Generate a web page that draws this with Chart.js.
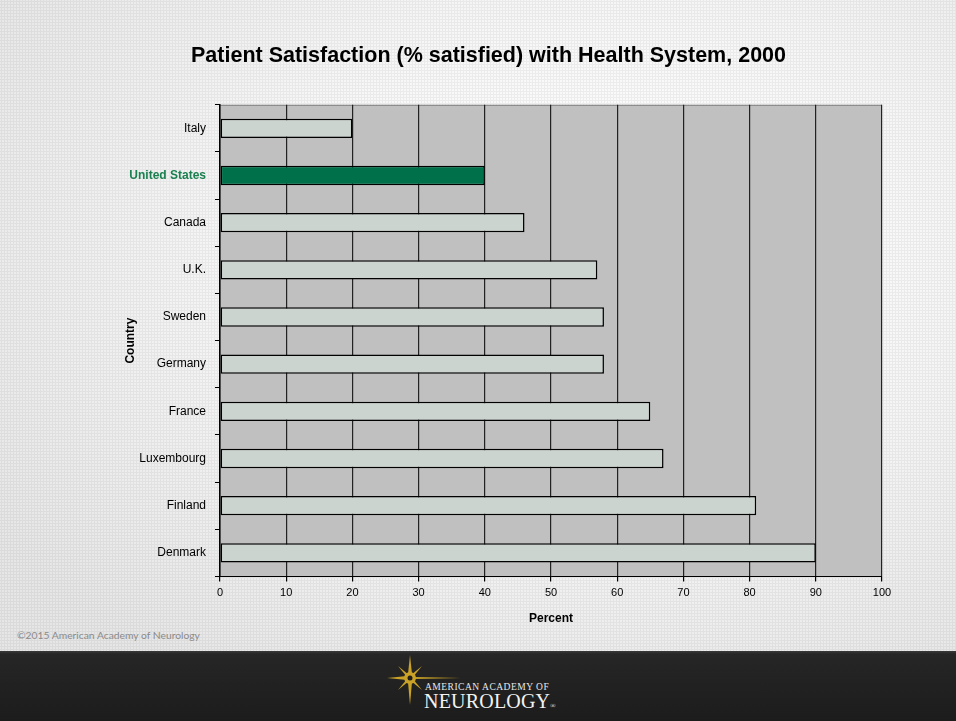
<!DOCTYPE html>
<html>
<head>
<meta charset="utf-8">
<script src="https://cdn.jsdelivr.net/npm/chart.js"></script>
<style>
  html, body { margin: 0; padding: 0; }
  body {
    width: 956px; height: 721px; position: relative; overflow: hidden;
    background-color: #e9e9e9;
    background-image:
      radial-gradient(circle, rgba(0,0,0,0.05) 1px, transparent 1.2px),
      radial-gradient(ellipse 75% 70% at 62% 35%, #ffffff 0%, #f7f7f7 45%, #e6e6e6 100%);
    background-size: 3px 3px, 100% 100%;
  }
  #wrap { position: absolute; left: 0; top: 0; width: 956px; height: 721px; }
  #copy {
    position: absolute; left: 17px; top: 629px;
    font: 10.3px Lato, sans-serif; color: #8a8a8a;
  }
  #footer {
    position: absolute; left: 0; top: 651px; width: 956px; height: 70px;
    background: linear-gradient(#3a3a3a 0px, #262626 3px, #1c1c1c 100%);
  }
  #logo1 {
    position: absolute; left: 425px; top: 682px;
    font: 9.5px "Liberation Serif", serif; color: #e8e8e8; letter-spacing: 0.5px;
  }
  #logo2 {
    position: absolute; left: 424px; top: 690px;
    font: 20px "Liberation Serif", serif; color: #f2f2f2; letter-spacing: 0.2px;
  }
  #logo2 small { font-size: 7px; letter-spacing: 0; }
  #star { position: absolute; left: 385px; top: 655px; }
</style>
</head>
<body>
<div id="footer"></div>
<svg id="star" width="80" height="50" viewBox="0 0 80 50">
  <g fill="#c9a227">
    <polygon points="25,0 27,19 25,22 23,19"/>
    <polygon points="25,50 27,27 25,24 23,27"/>
    <polygon points="2,23 22,21 25,23 22,25"/>
    <polygon points="76,23 28,22 25,23 28,24"/>
    <polygon points="13,11 24,20 22,22"/>
    <polygon points="37,11 26,20 28,22"/>
    <polygon points="13,35 24,26 22,24"/>
    <polygon points="37,35 26,26 28,24"/>
    <circle cx="25" cy="23" r="6"/>
  </g>
  <circle cx="25" cy="23" r="2.5" fill="#1e1e1e"/>
</svg>
<div id="logo1">AMERICAN ACADEMY OF</div>
<div id="logo2">NEUROLOGY<small>®</small></div>
<div id="copy">©2015 American Academy of Neurology</div>
<div id="wrap"><canvas id="chart" width="956" height="721"></canvas></div>
<script>
const countries = ['Italy', 'United States', 'Canada', 'U.K.', 'Sweden', 'Germany', 'France', 'Luxembourg', 'Finland', 'Denmark'];
const satisfied = [20, 40, 46, 57, 58, 58, 65, 67, 81, 90];
const highlight = 'United States';
const xTicks = [0, 10, 20, 30, 40, 50, 60, 70, 80, 90, 100];

const barColors = countries.map(c => c === highlight ? '#00704a' : '#cbd4cf');

// gray plot area
const plotBg = {
  id: 'plotBg',
  beforeDraw(chart) {
    const { ctx, chartArea: a } = chart;
    ctx.save();
    ctx.fillStyle = '#c0c0c0';
    ctx.fillRect(a.left, a.top, a.right - a.left, a.bottom - a.top);
    ctx.strokeStyle = '#808080';
    ctx.lineWidth = 1;
    ctx.beginPath();
    ctx.moveTo(a.left, a.top + 0.5);
    ctx.lineTo(a.right, a.top + 0.5);
    ctx.stroke();
    ctx.restore();
  }
};

new Chart(document.getElementById('chart'), {
  type: 'bar',
  data: {
    labels: countries,
    datasets: [{
      label: 'Percent',
      data: satisfied,
      backgroundColor: barColors,
      borderColor: '#000',
      borderWidth: 1.5,
      borderSkipped: false,
      barPercentage: 0.41,
      categoryPercentage: 1
    }]
  },
  options: {
    indexAxis: 'y',
    responsive: false,
    animation: false,
    layout: { padding: { left: 95, right: 74, top: 43, bottom: 95 } },
    plugins: {
      legend: { display: false },
      tooltip: { enabled: false },
      title: {
        display: true,
        text: 'Patient Satisfaction (% satisfied) with Health System, 2000',
        color: '#000',
        font: { family: 'Liberation Sans, Arial', size: 21.5, weight: 'bold' },
        padding: { top: 0, bottom: 36 }
      }
    },
    scales: {
      x: {
        min: 0, max: 100,
        afterBuildTicks: s => { s.ticks = xTicks.map(v => ({ value: v })); },
        grid: { color: '#222', lineWidth: 1.2, tickLength: 5, tickColor: '#000' },
        border: { color: '#000', width: 1 },
        ticks: { color: '#000', padding: 5, font: { family: 'Liberation Sans, Arial', size: 11 } },
        title: {
          display: true, text: 'Percent', color: '#000',
          font: { family: 'Liberation Sans, Arial', size: 12, weight: 'bold' },
          padding: { top: 7, bottom: 0 }
        }
      },
      y: {
        afterFit: s => { s.width = 125; },
        grid: { drawOnChartArea: false, tickLength: 5, color: '#000', offset: true },
        border: { color: '#000', width: 1.5 },
        ticks: {
          padding: 9,
          color: c => countries[c.index] === highlight ? '#1a8050' : '#000',
          font: c => ({
            family: 'Liberation Sans, Arial', size: 12,
            weight: countries[c.index] === highlight ? 'bold' : 'normal'
          })
        },
        title: {
          display: true, text: 'Country', color: '#000',
          font: { family: 'Liberation Sans, Arial', size: 12, weight: 'bold' },
          padding: { top: 28, bottom: 0 }
        }
      }
    }
  },
  plugins: [plotBg]
});
</script>
</body>
</html>
